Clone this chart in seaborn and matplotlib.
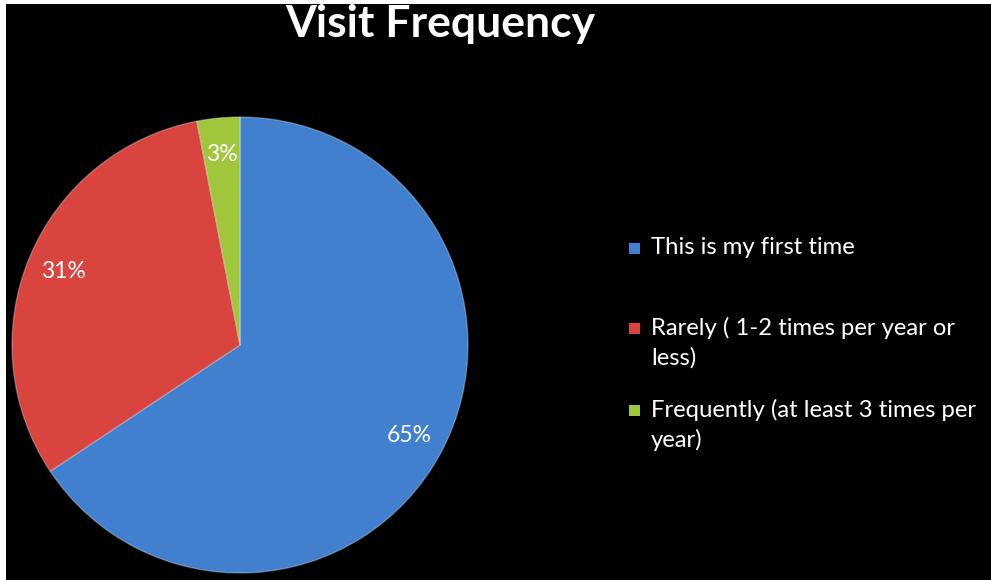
import matplotlib
matplotlib.use("Agg")
import matplotlib.pyplot as plt
from matplotlib.patches import Rectangle
import seaborn as sns

categories = ["This is my first time",
              "Rarely ( 1-2 times per year or\nless)",
              "Frequently (at least 3 times per\nyear)"]
values = [65, 31, 3]
pct_labels = ["65%", "31%", "3%"]
colors = ["#4080cf", "#d9443f", "#a0c63c"]
title = "Visit Frequency"

sns.set_theme(style="white")
plt.rcParams["font.family"] = ["Lato", "DejaVu Sans"]

W, H = 991, 580
fig = plt.figure(figsize=(W / 100, H / 100), dpi=100, facecolor="white")
ax = fig.add_axes([0, 0, 1, 1])
ax.set_facecolor("white")

# black slide background inside thin white border
ax.add_patch(Rectangle((6, 0), W - 5, H - 4, facecolor="black", edgecolor="none", zorder=0))

it = iter(pct_labels)
wedges, texts, autotexts = ax.pie(
    values, colors=colors, startangle=90, counterclock=False,
    center=(240, H - 345), radius=228, autopct=lambda p: next(it),
    pctdistance=0.84, wedgeprops=dict(edgecolor=(1, 1, 1, 0.3), linewidth=1.0),
    textprops=dict(color="white", fontsize=16.5), frame=True)

ax.set_xlim(0, W)
ax.set_ylim(0, H)
ax.set_aspect("equal")
ax.axis("off")

ax.text(440, H - 37, title, ha="center", va="baseline", color="white",
        fontsize=32, fontweight="bold")

# legend
leg_y = [248, 328, 410]
for lab, col, y in zip(categories, colors, leg_y):
    ax.add_patch(Rectangle((629, H - y - 6), 11, 11, facecolor=col, edgecolor="none", zorder=3))
    for i, line in enumerate(lab.split("\n")):
        ax.text(651, H - y - 30 * i, line, ha="left", va="center", color="white",
                fontsize=17.2)

fig.savefig("out.png", dpi=100, facecolor="white")
